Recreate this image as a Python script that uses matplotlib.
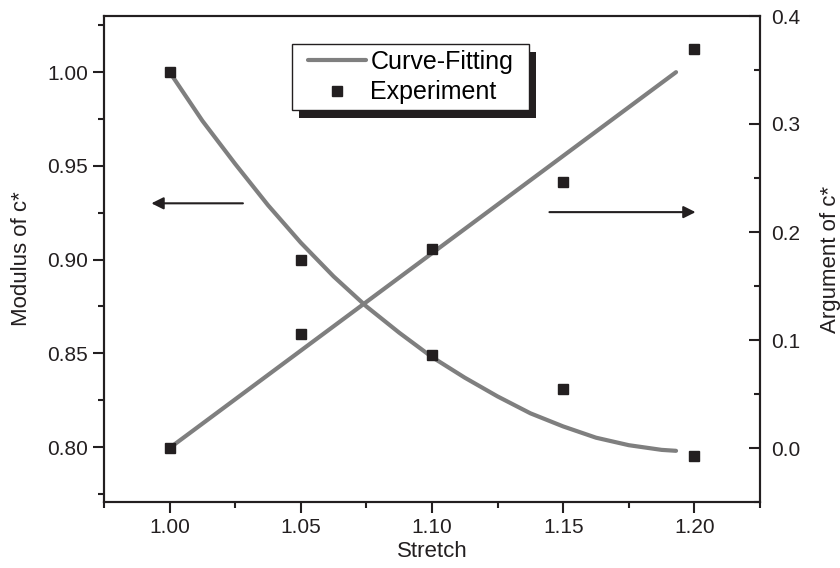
import matplotlib
matplotlib.use("Agg")
from matplotlib import pyplot as plt
from matplotlib.patches import Rectangle
from matplotlib.ticker import MultipleLocator

plt.rcParams["font.family"] = ["Liberation Sans", "DejaVu Sans"]

# experiment points
stretch = [1.00, 1.05, 1.10, 1.15, 1.20]
modulus = [1.000, 0.900, 0.849, 0.831, 0.795]
argument = [0.000, 0.106, 0.184, 0.246, 0.369]

# fitted curves
fit_x = [1.000, 1.0125, 1.025, 1.0375, 1.050, 1.0625, 1.075, 1.0875, 1.100,
         1.1125, 1.125, 1.1375, 1.150, 1.1625, 1.175, 1.1875, 1.193]
fit_modulus = [1.000, 0.974, 0.951, 0.929, 0.909, 0.891, 0.875, 0.861, 0.848,
               0.837, 0.827, 0.818, 0.811, 0.805, 0.801, 0.7985, 0.798]
fit_arg_x = [1.000, 1.193]
fit_argument = [0.000, 0.348]

ink = "#231f20"
grey = "#7f7f7f"
fs = 15

fig = plt.figure(figsize=(8.4, 5.68), dpi=100)
ax = fig.add_axes([104 / 840, 66 / 568, 656 / 840, 486 / 568])
ax2 = ax.twinx()

ax.plot(fit_x, fit_modulus, color=grey, lw=3, solid_capstyle="round", zorder=2)
ax.plot(stretch, modulus, "s", color=ink, ms=7.5, zorder=3)
line, = ax2.plot(fit_arg_x, fit_argument, color=grey, lw=3,
                 solid_capstyle="round", label="Curve-Fitting", zorder=2)
pts, = ax2.plot(stretch, argument, "s", color=ink, ms=7.5,
                label="Experiment", zorder=3)

ax.set_xlim(0.975, 1.225)
ax.set_ylim(0.7707, 1.0299)
ax2.set_ylim(-0.05, 0.4)

ax.xaxis.set_major_locator(MultipleLocator(0.05))
ax.xaxis.set_minor_locator(MultipleLocator(0.025))
ax.yaxis.set_major_locator(MultipleLocator(0.05))
ax.yaxis.set_minor_locator(MultipleLocator(0.025))
ax2.yaxis.set_major_locator(MultipleLocator(0.1))
ax2.yaxis.set_minor_locator(MultipleLocator(0.05))
ax.xaxis.set_major_formatter(lambda v, p: f"{v:.2f}")
ax.yaxis.set_major_formatter(lambda v, p: f"{v:.2f}")
ax2.yaxis.set_major_formatter(lambda v, p: f"{v:.1f}")

for a in (ax, ax2):
    for s in a.spines.values():
        s.set_linewidth(1.5)
        s.set_color(ink)
ax.tick_params(axis="both", which="major", direction="out", length=8,
               width=1.5, color=ink, labelsize=fs, labelcolor=ink)
ax.tick_params(axis="both", which="minor", direction="out", length=4,
               width=1.5, color=ink)
ax.tick_params(axis="y", right=False)
ax2.tick_params(axis="y", which="major", direction="in", length=8,
                width=1.5, color=ink, labelsize=fs, labelcolor=ink, pad=8)
ax2.tick_params(axis="y", which="minor", direction="in", length=4,
                width=1.5, color=ink)

ax.set_xlabel("Stretch", fontsize=16, color=ink, labelpad=3)
ax.set_ylabel("Modulus of c*", fontsize=16, color=ink, labelpad=11)
ax2.set_ylabel("Argument of c*", fontsize=16, color=ink, labelpad=14)

# direction arrows
ax.annotate("", xy=(0.992, 0.930), xytext=(1.029, 0.930),
            arrowprops=dict(arrowstyle="-|>", color=ink, lw=1.5,
                            mutation_scale=18))
ax.annotate("", xy=(1.2015, 0.9253), xytext=(1.1437, 0.9253),
            arrowprops=dict(arrowstyle="-|>", color=ink, lw=1.5,
                            mutation_scale=18))

# legend without its own frame; box and hard shadow drawn around it
padx, pady = 16, 6
leg = ax2.legend(handles=[line, pts], loc="upper left",
                 bbox_to_anchor=((292 + padx) / 840, 1 - (44 + pady) / 568),
                 bbox_transform=fig.transFigure, borderaxespad=0,
                 fontsize=18, numpoints=1, handlelength=2.3,
                 handletextpad=0.2, borderpad=0, labelspacing=0.25,
                 frameon=False)
leg.set_zorder(10)

fig.canvas.draw()
bb = leg.get_window_extent()
box = Rectangle((bb.x0 - padx, bb.y0 - pady), bb.width + 2 * padx,
                bb.height + 2 * pady, transform=None, facecolor="white",
                edgecolor=ink, lw=1.0, zorder=9.5)
shadow = Rectangle((bb.x0 - padx + 7, bb.y0 - pady - 8), bb.width + 2 * padx,
                   bb.height + 2 * pady, transform=None, facecolor=ink,
                   edgecolor="none", zorder=9)
ax2.add_artist(shadow)
ax2.add_artist(box)

fig.savefig("out.png", dpi=100)
